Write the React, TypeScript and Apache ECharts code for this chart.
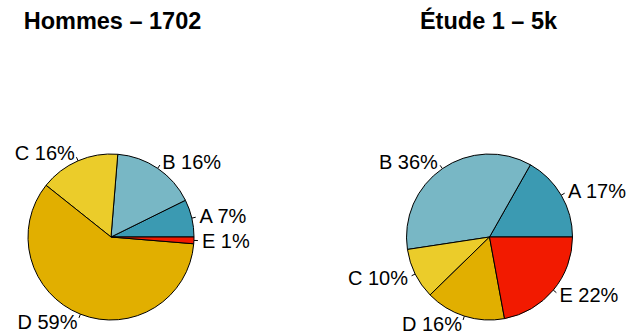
import React, { useEffect, useRef } from 'react';
import * as echarts from 'echarts';

const categories = ['A', 'B', 'C', 'D', 'E'];
const hommesValues = [7.3, 16.4, 15.6, 59.4, 1.3];
const etudeValues = [16.8, 35.6, 9.9, 15.6, 22.1];
const colors = ['#3B9AB2', '#78B7C5', '#EBCC2A', '#E1AF00', '#F21A00'];
const titles = ['Hommes – 1702', 'Étude 1 – 5k'];

const FONT = "'Liberation Sans', Arial, Helvetica, sans-serif";
const R = 83;
const CY = 237;
const CENTERS = [111, 489.5];
const TITLE_X = [112.5, 488.5];

function buildData(values: number[]) {
  return categories.map((c, i) => ({
    name: c,
    value: values[i],
    itemStyle: { color: colors[i] },
  }));
}

function mainSeries(values: number[], cx: number) {
  return {
    type: 'pie',
    center: [cx, CY],
    radius: R,
    startAngle: 0,
    clockwise: false,
    avoidLabelOverlap: false,
    silent: true,
    emphasis: { disabled: true },
    itemStyle: { borderColor: '#000', borderWidth: 1 },
    label: {
      show: true,
      position: 'outside',
      distanceToLabelLine: 0,
      fontSize: 20,
      fontFamily: FONT,
      color: '#000',
      formatter: (p: any) => `${p.name} ${Math.round(p.percent)}%`,
    },
    labelLine: { show: false, length: 8, length2: 0 },
    data: buildData(values),
  };
}

function tickSeries(values: number[], cx: number) {
  return {
    type: 'pie',
    center: [cx, CY],
    radius: R,
    startAngle: 0,
    clockwise: false,
    avoidLabelOverlap: false,
    silent: true,
    emphasis: { disabled: true },
    itemStyle: { color: 'rgba(0,0,0,0)', borderWidth: 0 },
    label: {
      show: true,
      position: 'outside',
      distanceToLabelLine: 0,
      fontSize: 20,
      formatter: () => '',
    },
    labelLine: { show: true, length: 4, length2: 0, lineStyle: { color: '#000', width: 1 } },
    data: categories.map((c, i) => ({ name: c, value: values[i] })),
  };
}

export default function App() {
  const ref = useRef<HTMLDivElement>(null);
  useEffect(() => {
    if (!ref.current) return;
    const chart = echarts.init(ref.current, undefined, { renderer: 'svg' });
    chart.setOption({
      animation: false,
      backgroundColor: '#fff',
      title: titles.map((t, i) => ({
        text: t,
        left: TITLE_X[i],
        textAlign: 'center',
        top: 8.5,
        padding: 0,
        textStyle: { fontSize: 23.5, fontWeight: 'bold', fontFamily: FONT, color: '#000' },
      })),
      series: [
        mainSeries(hommesValues, CENTERS[0]),
        tickSeries(hommesValues, CENTERS[0]),
        mainSeries(etudeValues, CENTERS[1]),
        tickSeries(etudeValues, CENTERS[1]),
      ],
    });
    return () => chart.dispose();
  }, []);
  return (
    <div
      ref={ref}
      style={{ position: 'absolute', left: 0, top: 0, width: 630, height: 335 }}
    />
  );
}
